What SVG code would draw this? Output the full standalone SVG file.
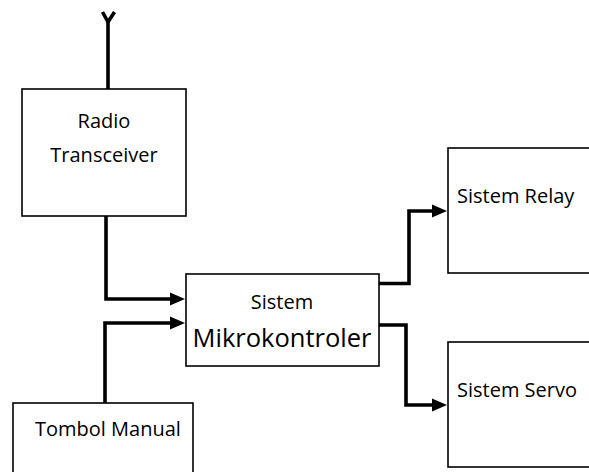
<svg xmlns="http://www.w3.org/2000/svg" width="589" height="472" viewBox="0 0 589 472">
<defs>
<style>
.box{fill:#fff;stroke:#000;stroke-width:1.6}
.wire{fill:none;stroke:#000;stroke-width:3.6;stroke-linejoin:miter}
.head{fill:#000;stroke:none}
.t{font-family:"Open Sans","Noto Sans",sans-serif;font-size:20px;fill:#000}
.big{font-size:25.5px}
</style>
</defs>
<rect width="589" height="472" fill="#fff"/>
<g id="connectors">
<path class="wire" d="M108,89 V21"/>
<path class="wire" d="M102.5,12 L108,22 L114.5,12" stroke-width="3.2"/>
<path class="wire" d="M106,216 V299 H172"/>
<polygon class="head" points="170,292.5 185,299 170,305.5"/>
<path class="wire" d="M105,403 V323 H172"/>
<polygon class="head" points="170,316.5 185,323 170,329.5"/>
<path class="wire" d="M379,283.5 H409 V211 H434"/>
<polygon class="head" points="432,204.5 447,211 432,217.5"/>
<path class="wire" d="M379,325 H406 V405 H434"/>
<polygon class="head" points="432,398.5 447,405 432,411.5"/>
</g>
<g id="radio">
<rect class="box" x="22" y="89" width="164" height="127"/>
<text class="t" x="104" y="128" text-anchor="middle">Radio</text>
<text class="t" x="104" y="162" text-anchor="middle">Transceiver</text>
</g>
<g id="mikro">
<rect class="box" x="186" y="274" width="193" height="92"/>
<text class="t" x="282" y="309" text-anchor="middle">Sistem</text>
<text class="t big" x="282" y="347" text-anchor="middle">Mikrokontroler</text>
</g>
<g id="tombol">
<rect class="box" x="13" y="403" width="180" height="80"/>
<text class="t" x="35" y="436">Tombol Manual</text>
</g>
<g id="relay">
<rect class="box" x="448" y="148" width="160" height="125"/>
<text class="t" x="457" y="203">Sistem Relay</text>
</g>
<g id="servo">
<rect class="box" x="448" y="342" width="160" height="125"/>
<text class="t" x="457" y="397">Sistem Servo</text>
</g>
</svg>
